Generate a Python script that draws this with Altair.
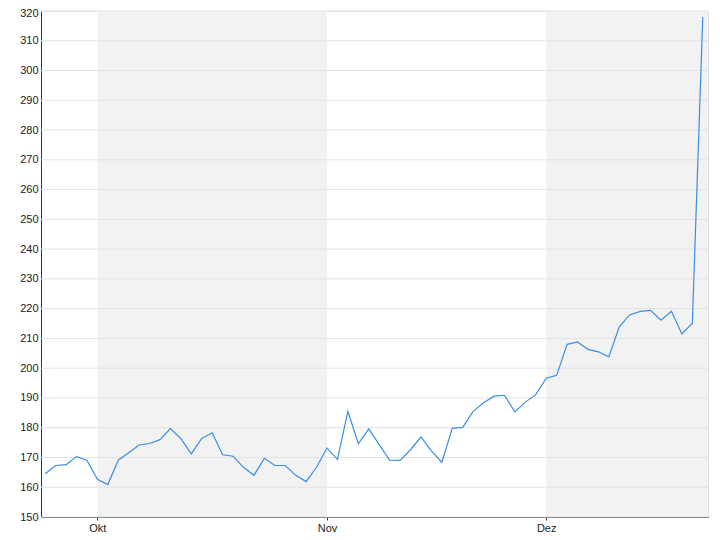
import altair as alt
import pandas as pd

values = [164.5, 167.3, 167.6, 170.3, 169.1, 162.7, 160.9, 169.1, 171.6, 174.2,
          174.7, 176.0, 179.7, 176.3, 171.2, 176.4, 178.3, 170.9, 170.4, 166.7,
          164.0, 169.7, 167.3, 167.3, 164.0, 161.9, 166.7, 173.2, 169.3, 185.5,
          174.6, 179.6, 174.3, 169.1, 169.0, 172.6, 176.9, 172.2, 168.4, 179.8,
          180.1, 185.5, 188.4, 190.6, 190.9, 185.3, 188.6, 191.1, 196.6, 197.6,
          208.0, 208.8, 206.3, 205.5, 203.8, 213.9, 217.9, 219.1, 219.4, 216.1,
          219.1, 211.5, 215.1, 318.0]
month_labels = ["Okt", "Nov", "Dez"]
month_start_idx = [5, 27, 48]
band_start = [5, 48]
band_end = [27, 63.5]
y_ticks = list(range(150, 321, 10))

df = pd.DataFrame({"i": list(range(len(values))), "v": values})
bands = pd.DataFrame({"a": band_start, "b": band_end})
grid = pd.DataFrame({"g": y_ticks})

label_expr = " : ".join(
    f"datum.value == {i} ? '{m}'" for i, m in zip(month_start_idx, month_labels)
) + " : ''"

xscale = alt.Scale(domain=[-0.4, 63.5], nice=False, zero=False)
yscale = alt.Scale(domain=[150, 320], nice=False, zero=False)

font = "Liberation Sans"
W, H = 667, 506

xaxis = alt.Axis(values=month_start_idx, labelExpr=label_expr, title=None,
                 grid=False, ticks=True, tickSize=3, labelOverlap=False)
yaxis = alt.Axis(values=y_ticks, title=None, grid=False, ticks=False,
                 labelOverlap=False, labelPadding=3,
                 labelOffset={"condition": {"test": f"datum.value == {y_ticks[-1]}", "value": 2},
                              "value": 0})

rects = alt.Chart(bands).mark_rect(color="#f2f2f2").encode(
    x=alt.X("a:Q", scale=xscale, axis=xaxis),
    x2="b:Q",
    y=alt.value(0),
    y2=alt.value(H),
)

rules = alt.Chart(grid).mark_rule(color="#e3e3e3", strokeWidth=1).encode(
    y=alt.Y("g:Q", scale=yscale, axis=yaxis),
    x=alt.value(0),
    x2=alt.value(W),
)

line = alt.Chart(df).mark_line(color="#3a8de6", strokeWidth=1.2).encode(
    x=alt.X("i:Q", scale=xscale, axis=xaxis),
    y=alt.Y("v:Q", scale=yscale, axis=yaxis),
)

chart = alt.layer(rects, rules, line).properties(
    width=W, height=H,
    autosize=alt.AutoSizeParams(type="none"),
    padding={"left": 33, "top": 3, "right": 4, "bottom": 24},
).configure_view(stroke=None).configure(background="white").configure_axis(
    domainColor="#333", tickColor="#333", labelColor="#222", labelFont=font,
    labelFontSize=11,
).configure_axisX(labelPadding=2).configure_axisY(ticks=False, labelPadding=3)

chart.save("out.html", embed_options={"renderer": "svg", "actions": False})
